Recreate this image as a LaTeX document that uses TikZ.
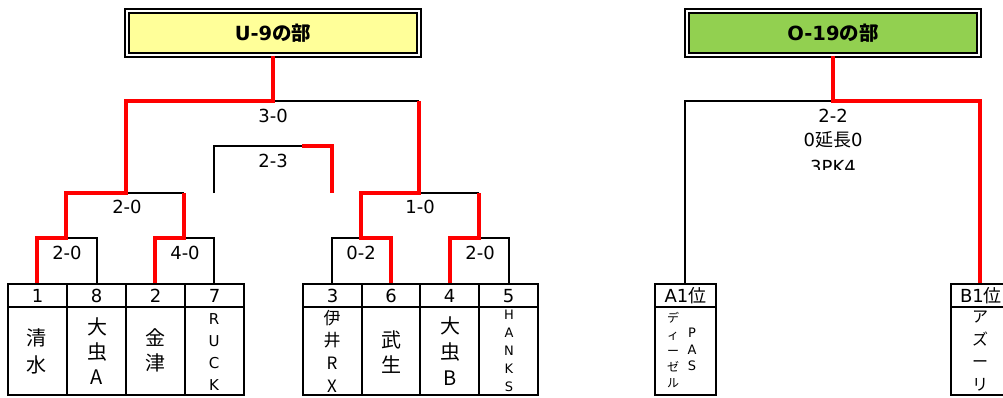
\documentclass[tikz,border=0pt]{standalone}
\usepackage{fontspec}
\setmainfont{DejaVu Sans}
\newfontfamily\cjk{Noto Sans CJK JP}
\definecolor{titleyellow}{HTML}{FFFF99}
\definecolor{titlegreen}{HTML}{92D050}
\begin{document}
\begin{tikzpicture}[x=1pt,y=-1pt,
  blk/.style={draw=black,line width=2pt},
  win/.style={draw=red,line width=3.2pt},
  tbl/.style={draw=black,line width=2pt},
  titlebox/.style={draw=black,line width=2pt,double=white,double distance=1.5pt,
    minimum width=292pt,minimum height=44pt,inner sep=0pt,
    font=\fontsize{19.5}{19.5}\selectfont\bfseries},
  score/.style={inner sep=0pt,font=\fontsize{18}{18}\selectfont},
  num/.style={inner sep=0pt,font=\fontsize{18}{18}\selectfont},
  cell/.style={inner sep=0pt,align=center}
]
\useasboundingbox (0,0) rectangle (1003,397);
\clip (0,0) rectangle (1003,397);

% titles
\node[titlebox,fill=titleyellow] (u9) at (273,33) {U-9{\cjk\bfseries の部}};
\node[titlebox,fill=titlegreen] (o19) at (833,33) {O-19{\cjk\bfseries の部}};

% slot tops
\coordinate (s1) at (37,284);
\coordinate (s8) at (97,284);
\coordinate (s2) at (155,284);
\coordinate (s7) at (214,284);
\coordinate (s3) at (332,284);
\coordinate (s6) at (391,284);
\coordinate (s4) at (450,284);
\coordinate (s5) at (509,284);
\coordinate (sa) at (685,284);
\coordinate (sb) at (980,284);

% junctions
\coordinate (m18) at (66,238);
\coordinate (m27) at (184,238);
\coordinate (m36) at (361,238);
\coordinate (m45) at (479,238);
\coordinate (sl) at (126,193);
\coordinate (sr) at (419,193);
\coordinate (fu) at (273,101);
\coordinate (fo) at (833,101);
\coordinate (t3l) at (214,193);
\coordinate (t3r) at (332,193);
\coordinate (t3m) at (302,146);

% black lines
\draw[blk] (m18) -- (97,238) -- (s8);
\draw[blk] (m27) -- (214,238) -- (s7);
\draw[blk] (m36) -- (332,238) -- (s3);
\draw[blk] (m45) -- (509,238) -- (s5);
\draw[blk] (sl) -- (184,193);
\draw[blk] (sr) -- (479,193);
\draw[blk] (fu) -- (419,101);
\draw[blk] (t3l) -- (214,146) -- (t3m);
\draw[blk] (sa) -- (685,101) -- (fo);

% red (winner) lines
\draw[win] (s1) -- (37,238) -- (m18) -- (66,193) -- (sl) -- (126,101) -- (fu) -- (u9.south);
\draw[win] (s2) -- (155,238) -- (m27) -- (184,193);
\draw[win] (s6) -- (391,238) -- (m36) -- (361,193) -- (sr) -- (419,101);
\draw[win] (s4) -- (450,238) -- (m45) -- (479,193);
\draw[win] (t3m) -- (332,146) -- (t3r);
\draw[win] (o19.south) -- (fo) -- (980,101) -- (sb);

% scores
\node[score] (r1) at (273,116) {3-0};
\node[score] (r2) at (273,161) {2-3};
\node[score] (r3) at (127,207) {2-0};
\node[score] (r4) at (420,207) {1-0};
\node[score] (r5) at (67,253) {2-0};
\node[score] (r6) at (185,253) {4-0};
\node[score] (r7) at (361,253) {0-2};
\node[score] (r8) at (480,253) {2-0};
\node[score] (r9) at (833,116) {2-2};
\node[score] (r10) at (833,140) {0{\cjk 延長}0};
\begin{scope}
\clip (700,150) rectangle (960,169.5);
\node[score] (r11) at (833,167) {3PK4};
\end{scope}

% tables
\draw[tbl] (8,284) rectangle (244,395);
\draw[tbl] (8,307) -- (244,307);
\draw[tbl] (67,284) -- (67,395);
\draw[tbl] (126,284) -- (126,395);
\draw[tbl] (185,284) -- (185,395);
\draw[tbl] (303,284) rectangle (538,395);
\draw[tbl] (303,307) -- (538,307);
\draw[tbl] (362,284) -- (362,395);
\draw[tbl] (420,284) -- (420,395);
\draw[tbl] (479,284) -- (479,395);
\draw[tbl] (655,284) rectangle (716,395);
\draw[tbl] (655,307) -- (716,307);
\draw[tbl] (951,284) rectangle (1012,395);
\draw[tbl] (951,307) -- (1012,307);

% seed numbers
\node[num] (n1) at (37.5,296) {1};
\node[num] (n8) at (96.5,296) {8};
\node[num] (n2) at (155.5,296) {2};
\node[num] (n7) at (214.5,296) {7};
\node[num] (n3) at (332.5,296) {3};
\node[num] (n6) at (391,296) {6};
\node[num] (n4) at (449.5,296) {4};
\node[num] (n5) at (508.5,296) {5};
\node[num] (na) at (685.5,296) {A1{\cjk 位}};
\node[num] (nb) at (981,296) {B1{\cjk 位}};

% team names
\node[cell,font=\cjk\fontsize{20}{27}\selectfont] (c1) at (37,351.5) {清\\水};
\node[cell,font=\cjk\fontsize{20}{25}\selectfont] (c8) at (97,351) {大\\虫\\A};
\node[cell,font=\cjk\fontsize{20}{25}\selectfont] (c2) at (155,350.5) {金\\津};
\node[cell,font=\fontsize{15}{22}\selectfont] (c7) at (214,352) {R\\U\\C\\K};
\node[cell,font=\cjk\fontsize{17}{22.7}\selectfont] (c3) at (332,351) {伊\\井\\R\\X};
\node[cell,font=\cjk\fontsize{20}{25}\selectfont] (c6) at (391,352.5) {武\\生};
\node[cell,font=\cjk\fontsize{20}{26}\selectfont] (c4) at (450,351) {大\\虫\\B};
\node[cell,font=\fontsize{13}{18}\selectfont] (c5) at (509,351) {H\\A\\N\\K\\S};
\node[cell,font=\cjk\fontsize{12}{16.25}\selectfont] (ca1) at (673,350.5) {デ\\ィ\\ー\\ゼ\\ル};
\node[cell,font=\fontsize{13}{16.5}\selectfont] (ca2) at (692,349.5) {P\\A\\S};
\node[cell,font=\cjk\fontsize{16}{22.7}\selectfont] (cb) at (980,351) {ア\\ズ\\ー\\リ};
\end{tikzpicture}
\end{document}
